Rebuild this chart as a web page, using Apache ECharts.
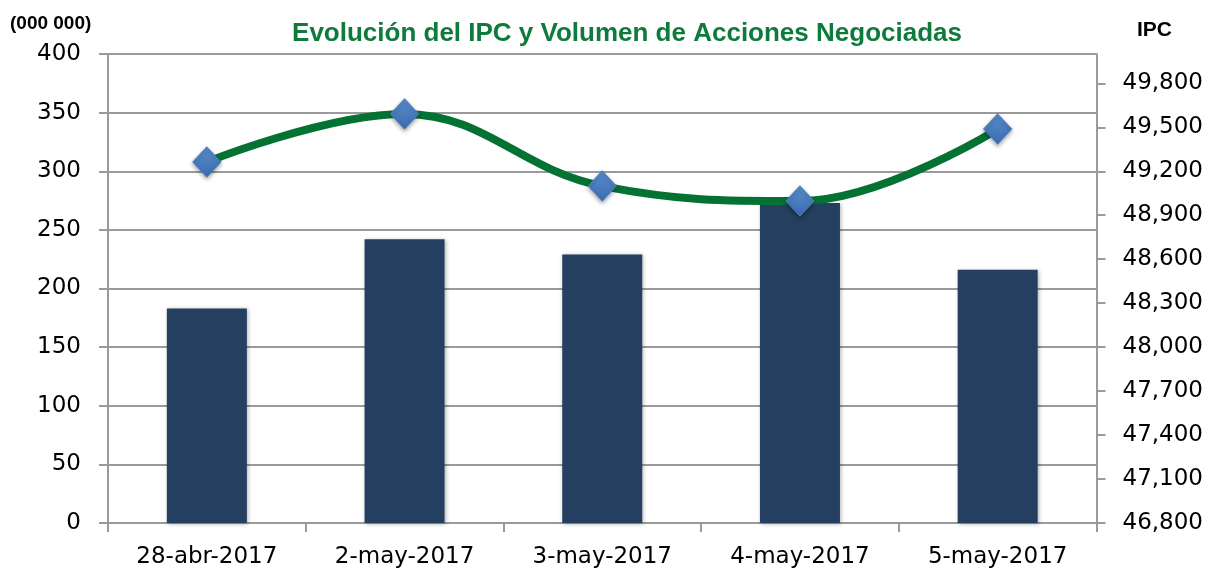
<!DOCTYPE html>
<html>
<head>
<meta charset="utf-8">
<script src="https://cdn.jsdelivr.net/npm/echarts@6/dist/echarts.min.js"></script>
<style>
html, body { margin: 0; padding: 0; background: #fff; }
#main { width: 1206px; height: 569px; }
</style>
</head>
<body>
<div id="main"></div>
<script>
var fechas = ['28-abr-2017', '2-may-2017', '3-may-2017', '4-may-2017', '5-may-2017'];
var volumen = [183, 242, 229, 273, 216];
var ipc = [49263, 49591, 49099, 48997, 49488];

var chart = echarts.init(document.getElementById('main'));

var gris = '#9a9a9a';
var fuente = '"DejaVu Sans", sans-serif';
var negrita = '"Liberation Sans", Arial, sans-serif';

var option = {
	backgroundColor: '#fff',
	title: [{
		text: 'Evolución del IPC y Volumen de Acciones Negociadas',
		left: 622, top: 16, textAlign: 'center',
		textStyle: { color: '#0E7A3B', fontSize: 26, fontWeight: 'bold', fontFamily: negrita }
	}, {
		text: '(000 000)',
		left: 5, top: 9,
		textStyle: { color: '#000', fontSize: 19, fontWeight: 'bold', fontFamily: negrita }
	}, {
		text: 'IPC',
		left: 1132, top: 15,
		textStyle: { color: '#000', fontSize: 21, fontWeight: 'bold', fontFamily: negrita }
	}],
	grid: { left: 108, right: 108, top: 54, bottom: 45 },
	xAxis: {
		type: 'category',
		data: fechas,
		axisLine: { lineStyle: { color: gris, width: 2 } },
		axisTick: { show: true, length: 9, lineStyle: { color: gris, width: 2 } },
		axisLabel: { color: '#000', fontSize: 23, fontFamily: fuente, margin: 23 }
	},
	yAxis: [{
		type: 'value',
		min: 0, max: 400, interval: 50,
		axisLine: { show: true, lineStyle: { color: gris, width: 2 } },
		axisTick: { show: true, length: 9, lineStyle: { color: gris, width: 2 } },
		splitLine: { lineStyle: { color: gris, width: 2 } },
		axisLabel: { color: '#000', fontSize: 23, fontFamily: fuente, margin: 27 }
	}, {
		type: 'value',
		min: 46800, max: 50000, interval: 300,
		axisLine: { show: true, lineStyle: { color: gris, width: 2 } },
		axisTick: { show: true, length: 9, lineStyle: { color: gris, width: 2 } },
		splitLine: { show: false },
		axisLabel: {
			color: '#000', fontSize: 23, fontFamily: fuente, margin: 26,
			showMaxLabel: false,
			formatter: function (v) { return v.toLocaleString('en-US'); }
		}
	}],
	series: [{
		name: 'Volumen',
		type: 'bar',
		data: volumen,
		barWidth: 80,
		itemStyle: {
			color: '#243F60',
			shadowColor: 'rgba(0,0,0,0.3)', shadowBlur: 4, shadowOffsetX: 1, shadowOffsetY: 1
		}
	}, {
		name: 'IPC',
		type: 'line',
		yAxisIndex: 1,
		data: ipc,
		smooth: 0.4,
		symbol: 'diamond',
		symbolSize: [28, 30],
		lineStyle: { color: '#047232', width: 8 },
		itemStyle: {
			color: new echarts.graphic.LinearGradient(0, 0, 0, 1, [
				{ offset: 0, color: '#5A8FD0' },
				{ offset: 1, color: '#3A6CB0' }
			]),
			borderColor: '#4A7EBB', borderWidth: 1,
			shadowColor: 'rgba(0,0,0,0.35)', shadowBlur: 4, shadowOffsetY: 2
		},
		z: 5
	}]
};

chart.setOption(option);
</script>
</body>
</html>
